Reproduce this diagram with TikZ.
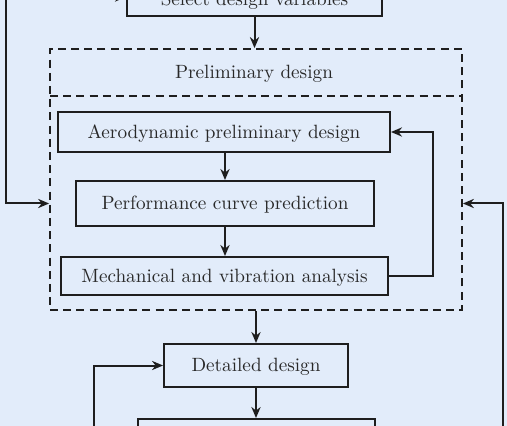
\documentclass[tikz,border=0pt]{standalone}
\usetikzlibrary{arrows.meta}
\definecolor{bg}{RGB}{226,236,250}
\definecolor{ink}{RGB}{30,30,30}
\definecolor{txt}{RGB}{40,40,40}
\tikzset{
  box/.style={draw=ink, line width=1pt, fill=bg, text=txt, inner sep=0pt,
    font=\fontsize{9.6}{11}\selectfont, text height=7.6pt, text depth=1.2pt},
  arr/.style={draw=ink, line width=1pt, -{Stealth[length=5.5pt,width=4.6pt,inset=1.8pt]}},
  ln/.style={draw=ink, line width=1pt},
  dbox/.style={draw=ink, line width=0.9pt, dash pattern=on 4pt off 2.6pt, inner sep=0pt},
}
\begin{document}
\begin{tikzpicture}[x=0.5pt,y=-0.5pt]
\fill[bg] (0,0) rectangle (507,426);
\useasboundingbox (0,0) rectangle (507,426);
\clip (0,0) rectangle (507,426);

\node[dbox, minimum width=206pt, minimum height=130.5pt] (outer) at (256,179.5) {};
\coordinate (dl) at (50,96);
\coordinate (dr) at (462,96);
\draw[ln, dash pattern=on 4pt off 2.6pt, line width=0.9pt] (dl) -- (dr);
\node[text=txt, font=\fontsize{9.6}{11}\selectfont, text height=7.6pt, text depth=1.2pt] (hdr) at (254,72) {Preliminary design};

\node[box, minimum width=127.5pt, minimum height=17pt] (sel) at (254.5,-1) {Select design variables};
\node[box, minimum width=166pt, minimum height=20pt] (aero) at (224,132) {Aerodynamic preliminary design};
\node[box, minimum width=149pt, minimum height=22.5pt] (perf) at (225,203.5) {Performance curve prediction};
\node[box, minimum width=163.5pt, minimum height=19pt] (mech) at (224.5,276) {Mechanical and vibration analysis};
\node[box, minimum width=92pt, minimum height=21.5pt] (det) at (256,365.5) {Detailed design};
\node[box, minimum width=118.5pt, minimum height=21.5pt] (nxt) at (256.5,440.5) {};

\coordinate (lt) at (6,-3);
\coordinate (lp) at (433,0);
\coordinate (rb) at (503,440);
\coordinate (lb) at (94,440);

\draw[arr] (sel.south) -- (sel.south |- outer.north);
\draw[arr] (lt) -- (lt -| sel.west);
\draw[arr] (lt) |- (outer.west |- perf.center);
\draw[arr] (aero.south -| perf.north) -- (perf.north);
\draw[arr] (perf.south) -- (perf.south |- mech.north);
\draw[arr] (mech.east) -- (mech.east -| lp) |- (aero.east);
\draw[arr] (rb) |- (outer.east |- perf.center);
\draw[arr] (outer.south -| det.north) -- (det.north);
\draw[arr] (lb) |- (det.west);
\draw[arr] (det.south) -- (det.south |- nxt.north);
\end{tikzpicture}
\end{document}
